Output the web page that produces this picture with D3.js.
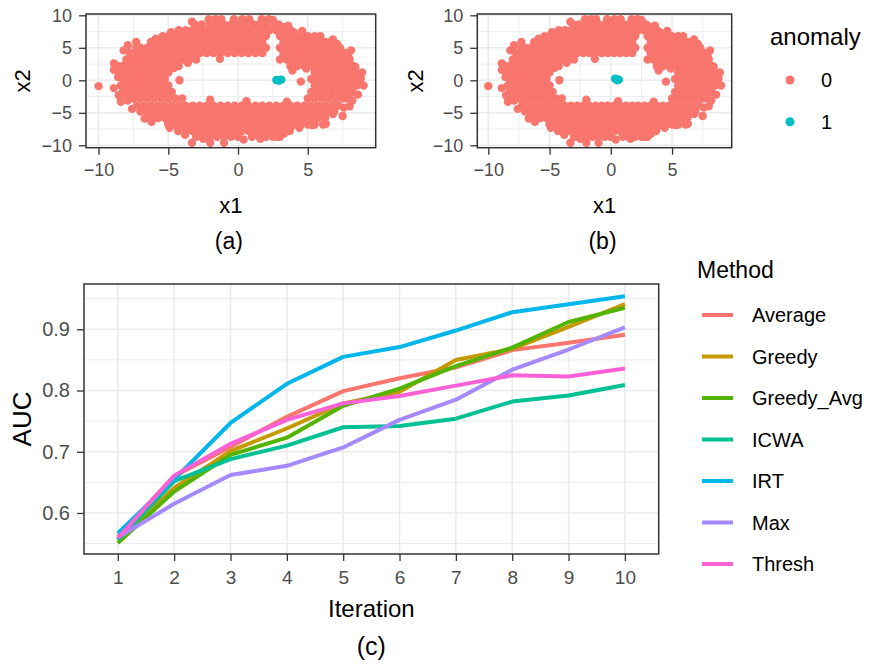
<!DOCTYPE html>
<html><head><meta charset="utf-8">
<script src="https://cdn.jsdelivr.net/npm/d3@7"></script>
<style>
body{margin:0;background:#fff;}
text{font-family:"Liberation Sans",Arial,sans-serif;}
</style></head><body>
<svg id="fig" width="871" height="665"></svg>
<script>
// ---------------- data: scatter panels (a) and (b) ----------------
// rows of normal points: one x2 value per row, the x1 values read along that row
const ringX2 = [9.4, 8.6, 7.7, 6.8, 5.9, 5.0, 4.2, 3.2, 2.2, 1.2, 0.2, -0.8, -1.8, -2.8, -3.9, -4.8, -5.8, -6.8, -7.8, -8.7, -9.6];
const ringX1 = [
  [-2.1,-1.6,-1.2,-0.3,0.3,0.8,1.7,2.2],
  [-3.1,-2.6,-2.0,-1.5,-1.0,-0.5,0.0,0.5,1.1,1.5,2.0,2.6,2.9],
  [-4.25,-3.75,-3.25,-2.75,-2.25,-1.75,-1.25,-0.75,-0.25,0.25,0.75,1.25,1.75,2.25,2.75,3.25,3.75],
  [-5.4,-5.0,-4.5,-4.0,-3.5,-3.0,-2.5,-2.0,-1.5,-1.0,-0.5,0.0,0.5,1.0,1.5,2.0,3.0,3.5,4.0,4.5,5.0,5.5],
  [-6.25,-5.75,-5.25,-4.75,-4.25,-3.75,-3.25,-2.75,-2.25,-1.75,-1.25,-0.75,-0.25,0.25,0.75,1.25,1.75,3.25,3.75,4.25,4.75,5.25,5.75,6.25,6.6],
  [-7.3,-7.0,-6.5,-6.0,-5.5,-5.0,-4.5,-4.0,-3.5,-3.0,-2.5,-2.0,-1.5,-1.0,-0.5,0.0,0.5,1.0,1.5,2.0,3.0,3.5,4.0,4.5,5.0,5.5,6.0,6.5,7.0,7.3],
  [-7.75,-7.25,-6.75,-6.25,-5.75,-5.25,-4.75,-4.25,-3.75,-3.25,-2.75,-2.25,-1.75,-1.25,-0.75,-0.25,0.25,0.75,1.25,1.75,3.25,3.75,4.25,4.75,5.25,5.75,6.25,6.75,7.25,7.7],
  [-8.0,-7.5,-7.0,-6.5,-6.0,-5.5,-5.0,-4.5,-4.0,-3.5,-3.0,3.0,3.5,4.0,4.5,5.0,5.5,6.0,6.5,7.0,7.5,8.0],
  [-8.6,-8.25,-7.75,-7.25,-6.75,-6.25,-5.75,-5.25,-4.75,-4.25,3.75,4.25,4.75,5.25,5.75,6.25,6.75,7.25,7.75,8.25],
  [-8.5,-8.0,-7.5,-7.0,-6.5,-6.0,-5.5,-5.0,5.5,6.0,6.5,7.0,7.5,8.0,8.5],
  [-8.25,-7.75,-7.25,-6.75,-6.25,-5.75,-5.25,5.25,5.75,6.25,6.75,7.25,7.75,8.25,8.7],
  [-8.4,-8.0,-7.5,-7.0,-6.5,-6.0,-5.5,-5.0,5.5,6.0,6.5,7.0,7.5,8.0,8.5],
  [-8.25,-7.75,-7.25,-6.75,-6.25,-5.75,-5.25,-4.75,5.25,5.75,6.25,6.75,7.25,7.75,8.2],
  [-8.0,-7.5,-7.0,-6.5,-6.0,-5.5,-5.0,-4.5,-4.0,5.0,5.5,6.0,6.5,7.0,7.5,7.9],
  [-7.25,-6.75,-6.25,-5.75,-5.25,-4.75,-4.25,-3.75,-3.25,-2.75,-2.25,-1.75,-1.25,-0.75,-0.25,0.25,0.75,1.25,1.75,2.25,2.75,3.25,3.75,4.25,4.75,5.25,5.75,6.25,6.75,7.2],
  [-7.0,-6.5,-6.0,-5.5,-5.0,-4.5,-4.0,-3.5,-3.0,-2.5,-2.0,-1.5,-1.0,-0.5,0.0,0.5,1.0,1.5,2.0,2.5,3.0,3.5,4.0,4.5,5.0,5.5,6.0,6.5,6.9],
  [-6.6,-6.25,-5.75,-5.25,-4.75,-4.25,-3.75,-3.25,-2.75,-2.25,-1.75,-1.25,-0.75,-0.25,0.25,0.75,1.25,1.75,2.25,2.75,3.25,3.75,4.25,4.75,5.25,5.75,6.25],
  [-5.0,-4.5,-4.0,-3.5,-3.0,-2.5,-2.0,-1.5,-1.0,-0.5,0.0,0.5,1.0,1.5,2.0,2.5,3.0,3.5,4.0,4.5,5.0,5.5,6.1],
  [-4.3,-3.75,-3.25,-2.75,-2.25,-1.75,-1.25,-0.75,-0.25,0.25,0.75,1.25,1.75,2.25,2.75,3.25,3.7],
  [-3.0,-2.5,-2.0,-1.5,-1.0,-0.5,0.0,1.0,1.5,2.0,2.5,3.0],
  [-3.3,-2.0,-1.0]
];
// isolated / edge points read one by one
const extraX1 = [-10.0,-8.9,-7.9,-7.3,-8.55,-7.9,-6.7,-4.2,4.5,3.9,8.2,8.8,8.4,7.9,7.1,4.0,3.2,6.3,2.8,-5.8,-3.3,2.5,-5.0,3.8,-8.6,8.0,7.5,
  -4.8,-5.9,-8.2,-8.9,-8.9,-8.4,-7.6,-6.2,-4.9,-3.8,-2.5,0.4,1.6,3.3,4.4,5.3,6.8,7.6,8.6,9.0,8.9,8.1,6.8,5.9,4.6,3.6,
  -3.6,-1.3,3.5,-2.0,0.6,4.9,-4.6];
const extraX2 = [-0.9,2.6,5.4,5.9,-2.3,-3.1,-5.9,0.0,-0.2,1.5,-3.1,0.3,2.1,3.8,5.6,7.4,8.2,-6.7,-8.7,6.2,9.0,9.3,-6.7,-7.2,0.5,-4.0,-5.5,
  7.4,6.4,4.6,1.6,-1.2,-3.3,-4.4,-6.4,-7.3,-8.4,-9.0,-9.1,-9.0,-8.2,-7.3,-6.9,-5.2,-4.2,-2.2,-0.8,1.2,4.6,6.3,6.8,7.6,8.4,
  2.7,3.3,-3.3,-3.0,-3.2,1.8,1.9];
// anomalies
const anomalyA_x1 = [2.75, 2.95, 3.1, 2.9];
const anomalyA_x2 = [0.05, -0.05, 0.1, 0.0];
const anomalyB_x1 = [0.35, 0.55, 0.65, 0.45];
const anomalyB_x2 = [0.25, 0.0, 0.1, 0.15];
const scatterXTicks = [-10, -5, 0, 5];
const scatterYTicks = [-10, -5, 0, 5, 10];
const anomalyLevels = ["0", "1"];
const anomalyColors = ["#F8766D", "#00BFC4"];

// ---------------- data: panel (c) ----------------
const iterations = [1,2,3,4,5,6,7,8,9,10];
const methods = ["Average","Greedy","Greedy_Avg","ICWA","IRT","Max","Thresh"];
const methodColors = ["#F8766D","#C49A00","#53B400","#00C094","#00B6EB","#A58AFF","#FB61D7"];
const aucAverage   = [0.562,0.660,0.708,0.757,0.799,0.820,0.838,0.866,0.878,0.891];
const aucGreedy    = [0.556,0.641,0.701,0.738,0.779,0.798,0.850,0.868,0.904,0.941];
const aucGreedyAvg = [0.551,0.635,0.695,0.723,0.775,0.803,0.840,0.870,0.912,0.935];
const aucICWA      = [0.556,0.652,0.688,0.710,0.740,0.742,0.754,0.782,0.792,0.809];
const aucIRT       = [0.567,0.655,0.747,0.811,0.855,0.871,0.898,0.928,0.941,0.954];
const aucMax       = [0.560,0.615,0.662,0.677,0.707,0.752,0.785,0.834,0.867,0.903];
const aucThresh    = [0.559,0.661,0.713,0.752,0.779,0.791,0.808,0.825,0.823,0.836];
const aucYTicks = [0.6,0.7,0.8,0.9];
const aucYMinor = [0.55,0.65,0.75,0.85,0.95];

// ---------------- drawing ----------------
const svg = d3.select("#fig");
const GRID = "#EBEBEB", BORDER = "#333333", TICKTXT = "#4D4D4D";

const normalPts = [];
ringX2.forEach((y, i) => ringX1[i].forEach(x => normalPts.push({x1: x, x2: y, a: 0})));
extraX1.forEach((x, i) => normalPts.push({x1: x, x2: extraX2[i], a: 0}));

function styleAxis(g, fs) {
  g.select(".domain").remove();
  g.selectAll(".tick line").attr("stroke", BORDER).attr("stroke-width", 1.3);
  g.selectAll(".tick text").attr("fill", TICKTXT).style("font-size", fs + "px");
}

function scatterPanel(id, L, R, T, B, anomX1, anomX2, x2LabelX, label) {
  const x = d3.scaleLinear().domain([-10.9, 9.87]).range([L, R]);
  const y = d3.scaleLinear().domain([-10.37, 10.2]).range([B, T]);
  const g = svg.append("g");
  g.append("defs").append("clipPath").attr("id", id)
    .append("rect").attr("x", L).attr("y", T).attr("width", R - L).attr("height", B - T);
  const grid = g.append("g");
  [-7.5,-2.5,2.5,7.5].forEach(v => grid.append("line").attr("x1", x(v)).attr("x2", x(v)).attr("y1", T).attr("y2", B).attr("stroke", GRID).attr("stroke-width", 0.9));
  [-7.5,-2.5,2.5,7.5].forEach(v => grid.append("line").attr("y1", y(v)).attr("y2", y(v)).attr("x1", L).attr("x2", R).attr("stroke", GRID).attr("stroke-width", 0.9));
  scatterXTicks.forEach(v => grid.append("line").attr("x1", x(v)).attr("x2", x(v)).attr("y1", T).attr("y2", B).attr("stroke", GRID).attr("stroke-width", 1.6));
  scatterYTicks.forEach(v => grid.append("line").attr("y1", y(v)).attr("y2", y(v)).attr("x1", L).attr("x2", R).attr("stroke", GRID).attr("stroke-width", 1.6));
  const pts = normalPts.concat(anomX1.map((v, i) => ({x1: v, x2: anomX2[i], a: 1})));
  g.append("g").attr("clip-path", `url(#${id})`).selectAll("circle").data(pts).join("circle")
    .attr("cx", d => x(d.x1)).attr("cy", d => y(d.x2)).attr("r", 4.2)
    .attr("fill", d => anomalyColors[d.a]);
  g.append("rect").attr("x", L).attr("y", T).attr("width", R - L).attr("height", B - T)
    .attr("fill", "none").attr("stroke", BORDER).attr("stroke-width", 1.5);
  const ax = g.append("g").attr("transform", `translate(0,${B})`)
    .call(d3.axisBottom(x).tickValues(scatterXTicks).tickSize(7).tickPadding(9).tickFormat(d3.format("d")));
  styleAxis(ax, 18);
  const ay = g.append("g").attr("transform", `translate(${L},0)`)
    .call(d3.axisLeft(y).tickValues(scatterYTicks).tickSize(7).tickPadding(7).tickFormat(d3.format("d")));
  styleAxis(ay, 18);
  const cx = (L + R) / 2;
  g.append("text").attr("x", cx).attr("y", 205).attr("text-anchor", "middle").attr("dominant-baseline", "central")
    .style("font-size", "22px").text("x1");
  g.append("text").attr("transform", `translate(${x2LabelX},${(T + B) / 2}) rotate(-90)`)
    .attr("text-anchor", "middle").attr("dominant-baseline", "central").style("font-size", "22px").text("x2");
  g.append("text").attr("x", cx - 2).attr("y", 241).attr("text-anchor", "middle").attr("dominant-baseline", "central")
    .style("font-size", "23px").text(label);
}

scatterPanel("clipA", 86, 375.7, 14, 147.7, anomalyA_x1, anomalyA_x2, 22, "(a)");
scatterPanel("clipB", 477.3, 731.7, 14, 147.7, anomalyB_x1, anomalyB_x2, 415, "(b)");

// anomaly legend
const lg1 = svg.append("g");
lg1.append("text").attr("x", 770).attr("y", 45).style("font-size", "24px").text("anomaly");
anomalyLevels.forEach((lv, i) => {
  const yy = 80 + i * 41.7;
  lg1.append("circle").attr("cx", 790).attr("cy", yy).attr("r", 4.5).attr("fill", anomalyColors[i]);
  lg1.append("text").attr("x", 821).attr("y", yy).attr("dominant-baseline", "central").style("font-size", "20px").text(lv);
});

// ---------------- panel (c) ----------------
const L = 84, R = 658.7, T = 284, B = 554;
const xs = d3.scalePoint().domain(iterations).range([L, R]).padding(0.6);
const ys = d3.scaleLinear().domain([0.533, 0.974]).range([B, T]);
const gc = svg.append("g");
aucYMinor.forEach(v => gc.append("line").attr("x1", L).attr("x2", R).attr("y1", ys(v)).attr("y2", ys(v)).attr("stroke", GRID).attr("stroke-width", 1.0));
aucYTicks.forEach(v => gc.append("line").attr("x1", L).attr("x2", R).attr("y1", ys(v)).attr("y2", ys(v)).attr("stroke", GRID).attr("stroke-width", 1.6));
iterations.forEach(v => gc.append("line").attr("x1", xs(v)).attr("x2", xs(v)).attr("y1", T).attr("y2", B).attr("stroke", GRID).attr("stroke-width", 1.6));

const seriesValues = [aucAverage, aucGreedy, aucGreedyAvg, aucICWA, aucIRT, aucMax, aucThresh];
const line = d3.line().x((d, i) => xs(iterations[i])).y(d => ys(d));
methods.forEach((m, k) => {
  gc.append("path").datum(seriesValues[k]).attr("d", line).attr("fill", "none")
    .attr("stroke", methodColors[k]).attr("stroke-width", 4).attr("stroke-linejoin", "round");
});
gc.append("rect").attr("x", L).attr("y", T).attr("width", R - L).attr("height", B - T)
  .attr("fill", "none").attr("stroke", BORDER).attr("stroke-width", 1.5);
const axc = gc.append("g").attr("transform", `translate(0,${B})`)
  .call(d3.axisBottom(xs).tickSize(7).tickPadding(10));
styleAxis(axc, 19);
const ayc = gc.append("g").attr("transform", `translate(${L},0)`)
  .call(d3.axisLeft(ys).tickValues(aucYTicks).tickSize(7).tickPadding(7).tickFormat(d3.format(".1f")));
styleAxis(ayc, 20);
gc.append("text").attr("x", (L + R) / 2).attr("y", 608).attr("text-anchor", "middle").attr("dominant-baseline", "central")
  .style("font-size", "24px").text("Iteration");
gc.append("text").attr("transform", `translate(22,${(T + B) / 2}) rotate(-90)`).attr("text-anchor", "middle")
  .attr("dominant-baseline", "central").style("font-size", "26px").text("AUC");
gc.append("text").attr("x", (L + R) / 2).attr("y", 646).attr("text-anchor", "middle").attr("dominant-baseline", "central")
  .style("font-size", "25px").text("(c)");

// method legend
const lg2 = svg.append("g");
lg2.append("text").attr("x", 697).attr("y", 278).style("font-size", "23px").text("Method");
methods.forEach((m, k) => {
  const yy = 315 + k * 41.5;
  lg2.append("line").attr("x1", 702).attr("x2", 733).attr("y1", yy).attr("y2", yy)
    .attr("stroke", methodColors[k]).attr("stroke-width", 4);
  lg2.append("text").attr("x", 752).attr("y", yy).attr("dominant-baseline", "central").style("font-size", "20px").text(m);
});
</script></body></html>
